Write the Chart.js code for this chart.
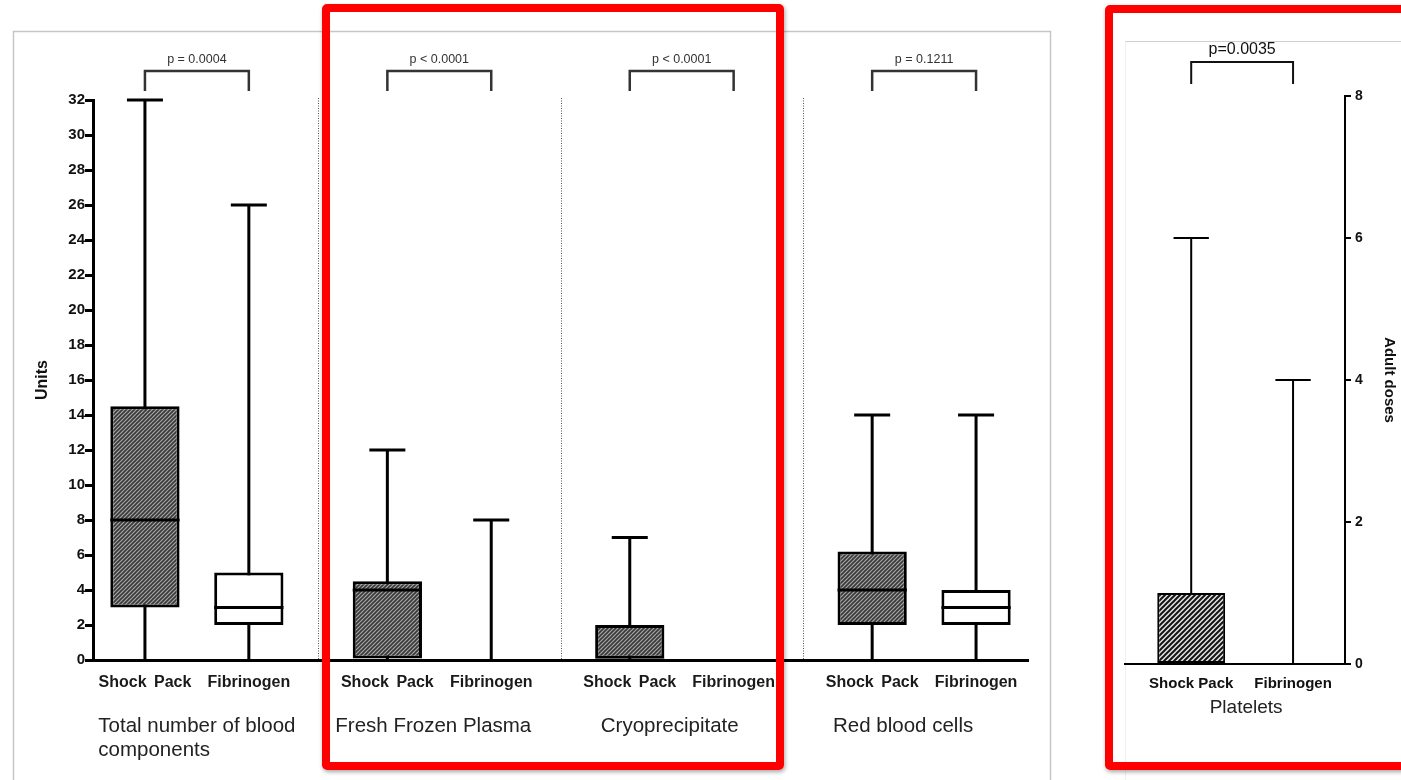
<!DOCTYPE html>
<html>
<head>
<meta charset="utf-8">
<script src="https://cdn.jsdelivr.net/npm/chart.js@4.4.1/dist/chart.umd.min.js"></script>
<style>
  html, body { margin: 0; padding: 0; background: #fff; }
  body { width: 1401px; height: 780px; position: relative; overflow: hidden; }
  canvas { position: absolute; top: 0; }
  #units { left: 0; }
  #doses { left: 1090px; }
  .frame { position: absolute; box-sizing: border-box; border: 8px solid #ff0000; border-radius: 5px;
           box-shadow: 1px 2px 4px rgba(0,0,0,0.35); }
</style>
</head>
<body>
<canvas id="units" width="1060" height="780"></canvas>
<canvas id="doses" width="311" height="780"></canvas>
<div class="frame" style="left:322px; top:4px; width:462px; height:766px;"></div>
<div class="frame" style="left:1105px; top:5px; width:320px; height:765px;"></div>
<script>
// ---- Blood components (units) per group ----
const groups = ['Total number of blood\ncomponents', 'Fresh Frozen Plasma', 'Cryoprecipitate', 'Red blood cells'];
const arms = ['Shock Pack', 'Fibrinogen'];
const shockMin = [0, 0, 0, 0];
const shockQ1  = [3, 0, 0, 2];
const shockMed = [8, 4, 0, 4];
const shockQ3  = [14.5, 4.5, 2, 6.2];
const shockMax = [32, 12, 7, 14];
const fibMin = [0, 0, 0, 0];
const fibQ1  = [2, 0, 0, 2];
const fibMed = [3, 0, 0, 3];
const fibQ3  = [5, 0, 0, 4];
const fibMax = [26, 8, 0, 14];
const groupP = ['p = 0.0004', 'p < 0.0001', 'p < 0.0001', 'p = 0.1211'];
const unitsMax = 32, unitsStep = 2;

// ---- Platelets (adult doses) ----
const plateletGroup = 'Platelets';
const pltMin = [0, 0];
const pltQ1  = [0, 0];
const pltMed = [0, 0];
const pltQ3  = [1, 0];
const pltMax = [6, 4];
const plateletP = 'p=0.0035';
const dosesMax = 8, dosesStep = 2;

// ---- layout of the x positions ----
const GROUP_SPAN = 7;       // slots per group on the linear x scale
const ARM_SLOT = [2, 5];    // slot of each arm inside a group
const FONT = '"Liberation Sans", Arial, Helvetica, sans-serif';
const labelNudge = [0, -6, -12, -21];

Chart.defaults.font.family = FONT;
Chart.defaults.color = '#111';

function hatch(ctx, size, bg, fg, lw) {
  const c = document.createElement('canvas');
  c.width = c.height = size;
  const g = c.getContext('2d');
  g.fillStyle = bg; g.fillRect(0, 0, size, size);
  g.strokeStyle = fg; g.lineWidth = lw;
  g.beginPath();
  g.moveTo(-1, size + 1); g.lineTo(size + 1, -1);
  g.moveTo(-1, 1); g.lineTo(1, -1);
  g.moveTo(size - 1, size + 1); g.lineTo(size + 1, size - 1);
  g.stroke();
  return ctx.createPattern(c, 'repeat');
}

// a box with no spread gets no outline
const outline = w => c => (c.raw && c.raw.y[1] > c.raw.y[0] ? w : 0);

// whiskers behind the boxes, medians on top
function boxExtras(stats, lw) {
  return {
    id: 'boxExtras',
    beforeDatasetsDraw(chart) {
      const { ctx, scales: { y } } = chart;
      ctx.save();
      ctx.strokeStyle = '#000'; ctx.lineWidth = lw;
      stats.forEach((s, d) => {
        chart.getDatasetMeta(d).data.forEach((bar, i) => {
          if (s.max[i] <= s.min[i]) return;
          const cap = bar.width * 0.52;
          const y0 = y.getPixelForValue(s.min[i]);
          const y1 = y.getPixelForValue(s.max[i]);
          ctx.beginPath();
          ctx.moveTo(bar.x, y0); ctx.lineTo(bar.x, y1 - lw / 2);
          ctx.moveTo(bar.x - cap / 2, y1); ctx.lineTo(bar.x + cap / 2, y1);
          ctx.stroke();
        });
      });
      ctx.restore();
    },
    afterDatasetsDraw(chart) {
      const { ctx, scales: { y } } = chart;
      ctx.save();
      ctx.strokeStyle = '#000'; ctx.lineWidth = lw;
      stats.forEach((s, d) => {
        chart.getDatasetMeta(d).data.forEach((bar, i) => {
          if (s.q3[i] <= s.q1[i]) return;
          const ym = y.getPixelForValue(s.med[i]);
          ctx.beginPath();
          ctx.moveTo(bar.x - bar.width / 2, ym); ctx.lineTo(bar.x + bar.width / 2, ym);
          ctx.stroke();
        });
      });
      ctx.restore();
    }
  };
}

function bracket(ctx, xa, xb, top, legs, text, font, lw) {
  ctx.save();
  ctx.strokeStyle = '#333'; ctx.lineWidth = lw;
  ctx.beginPath();
  ctx.moveTo(xa, legs); ctx.lineTo(xa, top); ctx.lineTo(xb, top); ctx.lineTo(xb, legs);
  ctx.stroke();
  ctx.fillStyle = '#333'; ctx.font = font;
  ctx.textAlign = 'center'; ctx.textBaseline = 'middle';
  ctx.fillText(text, (xa + xb) / 2, top - (lw + 9));
  ctx.restore();
}

// ================= left panel =================
const uCanvas = document.getElementById('units');
const uCtx = uCanvas.getContext('2d');
const shockFill = hatch(uCtx, 4, '#a6a6a6', '#383838', 1.6);
const pos = (g, a) => g * GROUP_SPAN + ARM_SLOT[a];

const unitStats = [
  { min: shockMin, q1: shockQ1, med: shockMed, q3: shockQ3, max: shockMax },
  { min: fibMin, q1: fibQ1, med: fibMed, q3: fibQ3, max: fibMax }
];

const leftDecor = {
  id: 'leftDecor',
  beforeDraw(chart) {
    const ctx = chart.ctx;
    ctx.save();
    ctx.strokeStyle = '#c6c6c6'; ctx.lineWidth = 1.5;
    ctx.strokeRect(13.5, 31.5, 1037, 800);
    ctx.restore();
  },
  beforeDatasetsDraw(chart) {
    const { ctx, chartArea: ca, scales: { x } } = chart;
    ctx.save();
    ctx.strokeStyle = '#555'; ctx.lineWidth = 1; ctx.setLineDash([1, 1.5]);
    for (let g = 1; g < groups.length; g++) {
      const px = Math.round(x.getPixelForValue(g * GROUP_SPAN)) + 0.5;
      ctx.beginPath(); ctx.moveTo(px, ca.top - 2); ctx.lineTo(px, ca.bottom); ctx.stroke();
    }
    ctx.restore();
  },
  afterDraw(chart) {
    const { ctx, chartArea: ca, scales: { x } } = chart;
    groups.forEach((name, g) => {
      const xa = x.getPixelForValue(pos(g, 0)), xb = x.getPixelForValue(pos(g, 1));
      bracket(ctx, xa, xb, ca.top - 29, ca.top - 9, groupP[g], '12.5px ' + FONT, 2.5);
      ctx.save();
      ctx.fillStyle = '#1a1a1a'; ctx.font = 'bold 16px ' + FONT;
      ctx.textAlign = 'center'; ctx.textBaseline = 'middle';
      if ('wordSpacing' in ctx) ctx.wordSpacing = '3px';
      ctx.fillText(arms[0], xa, ca.bottom + 23);
      ctx.fillText(arms[1], xb, ca.bottom + 23);
      ctx.restore();
      ctx.save();
      ctx.fillStyle = '#222'; ctx.font = '20.5px ' + FONT;
      ctx.textAlign = 'left'; ctx.textBaseline = 'middle';
      const lines = name.split('\n');
      const w = Math.max(...lines.map(l => ctx.measureText(l).width));
      const left = (xa + xb) / 2 - w / 2 + labelNudge[g];
      lines.forEach((l, k) => ctx.fillText(l, left, ca.bottom + 66 + k * 24));
      ctx.restore();
    });
  }
};

new Chart(uCtx, {
  type: 'bar',
  data: {
    datasets: [
      {
        label: arms[0],
        data: groups.map((_, g) => ({ x: pos(g, 0), y: [shockQ1[g], shockQ3[g]] })),
        backgroundColor: shockFill
      },
      {
        label: arms[1],
        data: groups.map((_, g) => ({ x: pos(g, 1), y: [fibQ1[g], fibQ3[g]] })),
        backgroundColor: '#ffffff'
      }
    ]
  },
  options: {
    responsive: false,
    animation: false,
    devicePixelRatio: 1,
    layout: { padding: { top: 100, right: 32, left: 0, bottom: 0 } },
    datasets: {
      bar: {
        grouped: false, borderColor: '#000', borderWidth: outline(3), borderSkipped: false,
        barPercentage: 2 / 3, categoryPercentage: 1
      }
    },
    plugins: { legend: { display: false }, tooltip: { enabled: false } },
    scales: {
      x: {
        type: 'linear', offset: false, min: 0.5, max: groups.length * GROUP_SPAN - 0.5,
        ticks: { display: false, stepSize: 100 },
        grid: { display: false },
        border: { display: true, color: '#000', width: 3 },
        afterFit: s => { s.height = 120; }
      },
      y: {
        min: 0, max: unitsMax,
        ticks: { stepSize: unitsStep, padding: 0, color: '#111', font: { size: 15, weight: 'bold' } },
        grid: { drawOnChartArea: false, drawTicks: true, tickLength: 8, lineWidth: 3, color: '#000' },
        border: { display: true, color: '#000', width: 3 },
        title: { display: true, text: 'Units', color: '#111', font: { size: 16, weight: 'bold' }, padding: { top: 33 } },
        afterFit: s => { s.width = 93; }
      }
    }
  },
  plugins: [leftDecor, boxExtras(unitStats, 3)]
});

// ================= platelets panel =================
const dCanvas = document.getElementById('doses');
const dCtx = dCanvas.getContext('2d');
const pltFill = hatch(dCtx, 5, '#e4e4e4', '#151515', 2);
const pltStats = [{ min: pltMin, q1: pltQ1, med: pltMed, q3: pltQ3, max: pltMax }];

const rightDecor = {
  id: 'rightDecor',
  beforeDraw(chart) {
    const { ctx, chartArea: ca } = chart;
    ctx.save();
    ctx.strokeStyle = '#cfcfcf'; ctx.lineWidth = 1;
    ctx.beginPath(); ctx.moveTo(ca.left, 41.5); ctx.lineTo(chart.width, 41.5); ctx.stroke();
    ctx.strokeStyle = '#f0f0f0';
    ctx.beginPath(); ctx.moveTo(ca.left + 0.5, 41.5); ctx.lineTo(ca.left + 0.5, chart.height); ctx.stroke();
    ctx.restore();
  },
  afterDraw(chart) {
    const { ctx, chartArea: ca, scales: { x } } = chart;
    const xa = x.getPixelForValue(1), xb = x.getPixelForValue(2);
    ctx.save();
    ctx.strokeStyle = '#111'; ctx.lineWidth = 2;
    ctx.beginPath();
    ctx.moveTo(xa, ca.top - 12); ctx.lineTo(xa, ca.top - 34); ctx.lineTo(xb, ca.top - 34); ctx.lineTo(xb, ca.top - 12);
    ctx.stroke();
    ctx.fillStyle = '#111'; ctx.font = '16px ' + FONT;
    ctx.textAlign = 'center'; ctx.textBaseline = 'middle';
    ctx.fillText(plateletP, (xa + xb) / 2, ca.top - 46);
    ctx.font = 'bold 15px ' + FONT;
    ctx.fillText(arms[0], xa, ca.bottom + 20);
    ctx.fillText(arms[1], xb, ca.bottom + 20);
    ctx.fillStyle = '#222'; ctx.font = '19px ' + FONT;
    ctx.fillText(plateletGroup, (xa + xb) / 2 + 4, ca.bottom + 44);
    ctx.restore();
  }
};

new Chart(dCtx, {
  type: 'bar',
  data: {
    datasets: [{
      label: plateletGroup,
      data: arms.map((_, a) => ({ x: a + 1, y: [pltQ1[a], pltQ3[a]] })),
      backgroundColor: [pltFill, '#ffffff']
    }]
  },
  options: {
    responsive: false,
    animation: false,
    devicePixelRatio: 1,
    layout: { padding: { top: 96, right: 0, left: 35, bottom: 0 } },
    datasets: {
      bar: {
        grouped: false, borderColor: '#000', borderWidth: outline(2), borderSkipped: false,
        barPercentage: 2 / 3, categoryPercentage: 1
      }
    },
    plugins: { legend: { display: false }, tooltip: { enabled: false } },
    scales: {
      x: {
        type: 'linear', offset: false, min: 0.35, max: 2.51,
        ticks: { display: false, stepSize: 100 },
        grid: { display: false },
        border: { display: true, color: '#000', width: 2 },
        afterFit: s => { s.height = 116; }
      },
      y: {
        position: 'right', min: 0, max: dosesMax,
        ticks: { stepSize: dosesStep, padding: 4, color: '#111', font: { size: 14, weight: 'bold' } },
        grid: { drawOnChartArea: false, drawTicks: true, tickLength: 6, lineWidth: 2, color: '#000' },
        border: { display: true, color: '#000', width: 2 },
        title: { display: true, text: 'Adult doses', color: '#111', font: { size: 15, weight: 'bold' }, padding: { top: 2.5 } },
        afterFit: s => { s.width = 56; }
      }
    }
  },
  plugins: [rightDecor, boxExtras(pltStats, 2)]
});
</script>
</body>
</html>
